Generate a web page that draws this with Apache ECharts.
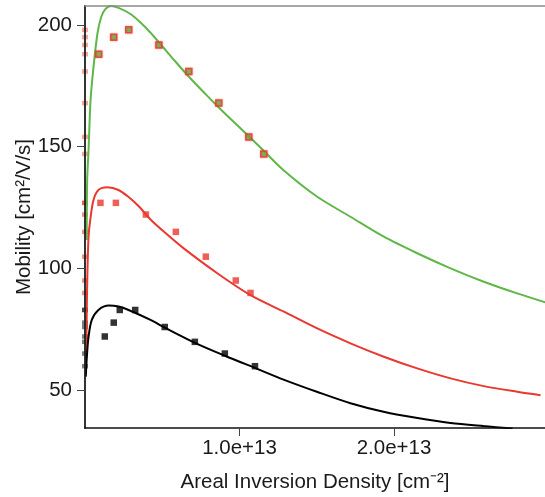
<!DOCTYPE html>
<html>
<head>
<meta charset="utf-8">
<script src="https://cdn.jsdelivr.net/npm/echarts@6/dist/echarts.min.js"></script>
<style>html,body{margin:0;padding:0;background:#fff;}#c{width:545px;height:497px;}</style>
</head>
<body>
<div id="c"></div>
<script>
// x values in units of 1e12 cm^-2
const X_UNIT = 1e12;
const xTicks = [1e13, 2e13];
const yTicks = [50, 100, 150, 200];

// measured points
const greenPtsN  = [0.89, 1.86, 2.83, 4.78, 6.72, 8.66, 10.60, 11.57];
const greenPtsMu = [188.0, 195.0, 198.0, 191.8, 180.9, 167.9, 154.0, 147.0];
const redPtsN    = [1.0, 2.0, 3.94, 5.88, 7.82, 9.76, 10.71];
const redPtsMu   = [126.9, 126.9, 122.1, 115.0, 104.8, 95.0, 89.9];
const blackPtsN  = [1.28, 1.86, 2.25, 3.25, 5.16, 7.11, 9.05, 11.0];
const blackPtsMu = [72.0, 77.7, 82.9, 82.9, 75.9, 69.8, 65.0, 59.8];

// fitted model curves
const greenLineN  = [0.11, 0.14, 0.23, 0.36, 0.55, 0.81, 1.05, 1.33, 1.68, 2.17, 2.94, 3.56, 4.2, 4.85, 5.82, 6.8, 7.77, 8.74, 9.72, 10.55, 11.55, 12.87, 15.03, 17.18, 19.34, 21.50, 23.66, 25.81, 27.97, 29.8];
const greenLineMu = [111.6, 136.3, 148.6, 169.2, 182.7, 196.7, 203.3, 206.6, 207.8, 207.0, 204.5, 201.2, 197.1, 192.4, 185.2, 178.2, 171.8, 165.6, 159.6, 154.6, 148.4, 140.2, 129.4, 121.2, 113.0, 106.2, 100.0, 94.5, 89.7, 86.0];
const redLineN    = [0.06, 0.10, 0.12, 0.16, 0.23, 0.34, 0.55, 0.87, 1.46, 2.17, 2.82, 3.46, 4.24, 5.21, 6.39, 8.56, 10.71, 12.87, 15.03, 17.18, 19.34, 21.50, 23.66, 25.81, 27.97, 29.48];
const redLineMu   = [60.3, 74.6, 85.7, 99.3, 113.0, 119.9, 128.1, 132.2, 133.3, 132.2, 129.3, 125.6, 120.1, 114.5, 108.2, 98.0, 89.0, 82.2, 75.3, 69.2, 63.7, 58.9, 54.8, 51.6, 49.3, 47.9];
const blackLineN  = [0.05, 0.12, 0.23, 0.44, 0.87, 1.54, 2.17, 2.82, 4.24, 5.21, 7.15, 9.09, 11.03, 12.85, 15.05, 17.18, 19.32, 21.52, 23.66, 25.79, 27.67];
const blackLineMu = [55.5, 63.7, 71.9, 78.8, 82.9, 84.7, 84.3, 82.9, 78.8, 75.5, 69.3, 64.0, 59.0, 54.3, 49.2, 44.6, 41.1, 38.5, 36.5, 35.2, 34.2];

const RED = '#E9382F', GREEN = '#5FB748', BLACK = '#000000';
const FONT = 'Liberation Sans';
const FS = 20.5;

const pair = (xs, ys) => xs.map((x, i) => [x * X_UNIT, ys[i]]);
const rug = (ys) => ys.map(y => [0, y]);

const chart = echarts.init(document.getElementById('c'), null, {renderer: 'canvas'});
chart.setOption({
  animation: false,
  backgroundColor: '#fff',
  grid: {left: 85, top: 6, right: 0, bottom: 69, containLabel: false, outerBoundsMode: 'none'},
  xAxis: [{
    type: 'value', min: 0, max: 29.77e12, z: 5,
    name: 'Areal Inversion Density [cm\u207B\u00B2]', nameLocation: 'middle', nameGap: 44, nameMoveOverlap: false,
    nameTextStyle: {fontFamily: FONT, fontSize: FS, color: '#1a1a1a'},
    axisLine: {show: true, onZero: false, lineStyle: {color: '#111', width: 1.6}},
    axisTick: {show: true, length: 8, customValues: xTicks, lineStyle: {color: '#444', width: 1}},
    axisLabel: {customValues: xTicks, margin: 10, fontFamily: FONT, fontSize: FS, color: '#1a1a1a',
      formatter: v => Number(v).toExponential(1)},
    splitLine: {show: false}
  }, {
    type: 'value', position: 'top', min: 0, max: 29.77e12, z: 5,
    axisLine: {show: true, onZero: false, lineStyle: {color: '#8a8a8a', width: 1.6}},
    axisTick: {show: false}, axisLabel: {show: false}, splitLine: {show: false}
  }],
  yAxis: {
    type: 'value', min: 34.4, max: 207.8, z: 5,
    name: 'Mobility [cm\u00B2/V/s]', nameLocation: 'middle', nameGap: 50, nameMoveOverlap: false,
    nameTextStyle: {fontFamily: FONT, fontSize: FS, color: '#1a1a1a'},
    axisLine: {show: true, onZero: false, lineStyle: {color: '#1a1f1a', width: 1.8}},
    axisTick: {show: true, length: 8, customValues: yTicks, lineStyle: {color: '#444', width: 1}},
    axisLabel: {customValues: yTicks, margin: 13, fontFamily: FONT, fontSize: FS, color: '#1a1a1a'},
    splitLine: {show: false}
  },
  series: [
    {type: 'scatter', data: rug(greenPtsMu), symbol: 'rect', symbolSize: [6, 4.5], clip: false,
     itemStyle: {color: 'rgba(233,70,50,0.6)'}, z: 1},
    {type: 'scatter', data: rug(redPtsMu), symbol: 'rect', symbolSize: [6, 4.5], clip: false,
     itemStyle: {color: 'rgba(233,56,47,0.7)'}, z: 1},
    {type: 'scatter', data: rug(blackPtsMu), symbol: 'rect', symbolSize: [6, 4.5], clip: false,
     itemStyle: {color: 'rgba(40,40,40,0.75)'}, z: 1},
    {type: 'line', data: pair(greenLineN, greenLineMu), showSymbol: false, smooth: 0.3,
     lineStyle: {color: GREEN, width: 2}, z: 2},
    {type: 'line', data: pair(redLineN, redLineMu), showSymbol: false, smooth: 0.3,
     lineStyle: {color: RED, width: 2}, z: 2},
    {type: 'line', data: pair(blackLineN, blackLineMu), showSymbol: false, smooth: 0.3,
     lineStyle: {color: BLACK, width: 2}, z: 2},
    {type: 'scatter', data: pair(greenPtsN, greenPtsMu), symbol: 'rect', symbolSize: 6,
     itemStyle: {color: GREEN, borderColor: RED, borderWidth: 1.5, shadowBlur: 2, shadowColor: 'rgba(233,56,47,0.6)'}, z: 3},
    {type: 'scatter', data: pair(redPtsN, redPtsMu), symbol: 'rect', symbolSize: 6.5,
     itemStyle: {color: RED}, z: 3},
    {type: 'scatter', data: pair(blackPtsN, blackPtsMu), symbol: 'rect', symbolSize: 6.5,
     itemStyle: {color: BLACK}, z: 3}
  ]
});
</script>
</body>
</html>
